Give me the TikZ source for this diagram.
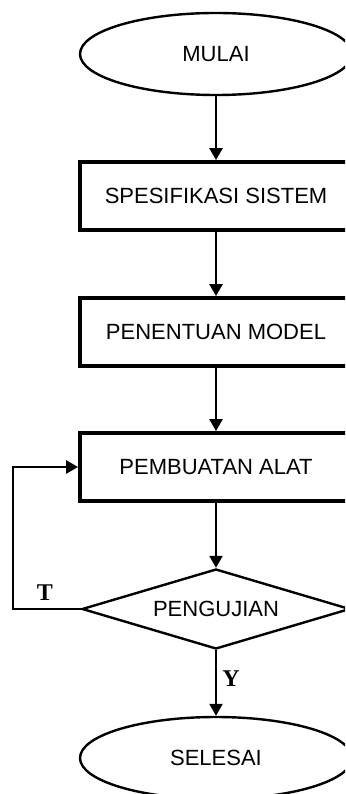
\documentclass[tikz,border=0pt]{standalone}
\usepackage{fontspec}
\setmainfont{Liberation Sans}
\newfontfamily\serifbold{Liberation Serif}
\usetikzlibrary{shapes.geometric,arrows.meta}
\begin{document}
\begin{tikzpicture}[x=1pt,y=1pt,
  every node/.style={font=\fontsize{22}{26}\selectfont, text=black},
  term/.style={ellipse, draw=black, line width=2.4pt, minimum width=272pt, minimum height=82pt, inner sep=0pt},
  procbox/.style={rectangle, draw=black, line width=3.8pt, minimum width=272pt, minimum height=68pt, inner sep=0pt},
  decide/.style={diamond, aspect=3.35, draw=black, line width=2.4pt, minimum width=268pt, minimum height=80pt, inner sep=0pt},
  flow/.style={draw=black, line width=2.4pt, -{Triangle[length=12pt,width=13pt]}},
  lbl/.style={font=\serifbold\bfseries\fontsize{24}{28}\selectfont, text=black}
]
\useasboundingbox (0,0) rectangle (345,-794);
\clip (0,0) rectangle (345,-794);
\fill[white] (0,0) rectangle (345,-794);
\node[term] (mulai) at (216,-54) {MULAI};
\node[procbox] (spek) at (216,-196) {SPESIFIKASI SISTEM};
\node[procbox] (model) at (216,-332) {PENENTUAN MODEL};
\node[procbox] (alat) at (216,-467) {PEMBUATAN ALAT};
\node[decide] (uji) at (216,-609) {PENGUJIAN};
\node[term] (selesai) at (216,-758) {SELESAI};
\coordinate (fbl) at (13,-609);
\coordinate (fbu) at (13,-467);
\draw[flow] (mulai) -- (spek);
\draw[flow] (spek) -- (model);
\draw[flow] (model) -- (alat);
\draw[flow] (alat) -- (uji);
\draw[flow] (uji) -- (selesai);
\draw[flow] (uji.west) -- (fbl) -- (fbu) -- (alat.west);
\node[lbl] (tl) at (45,-593) {T};
\node[lbl] (yl) at (231,-679) {Y};
\end{tikzpicture}
\end{document}
